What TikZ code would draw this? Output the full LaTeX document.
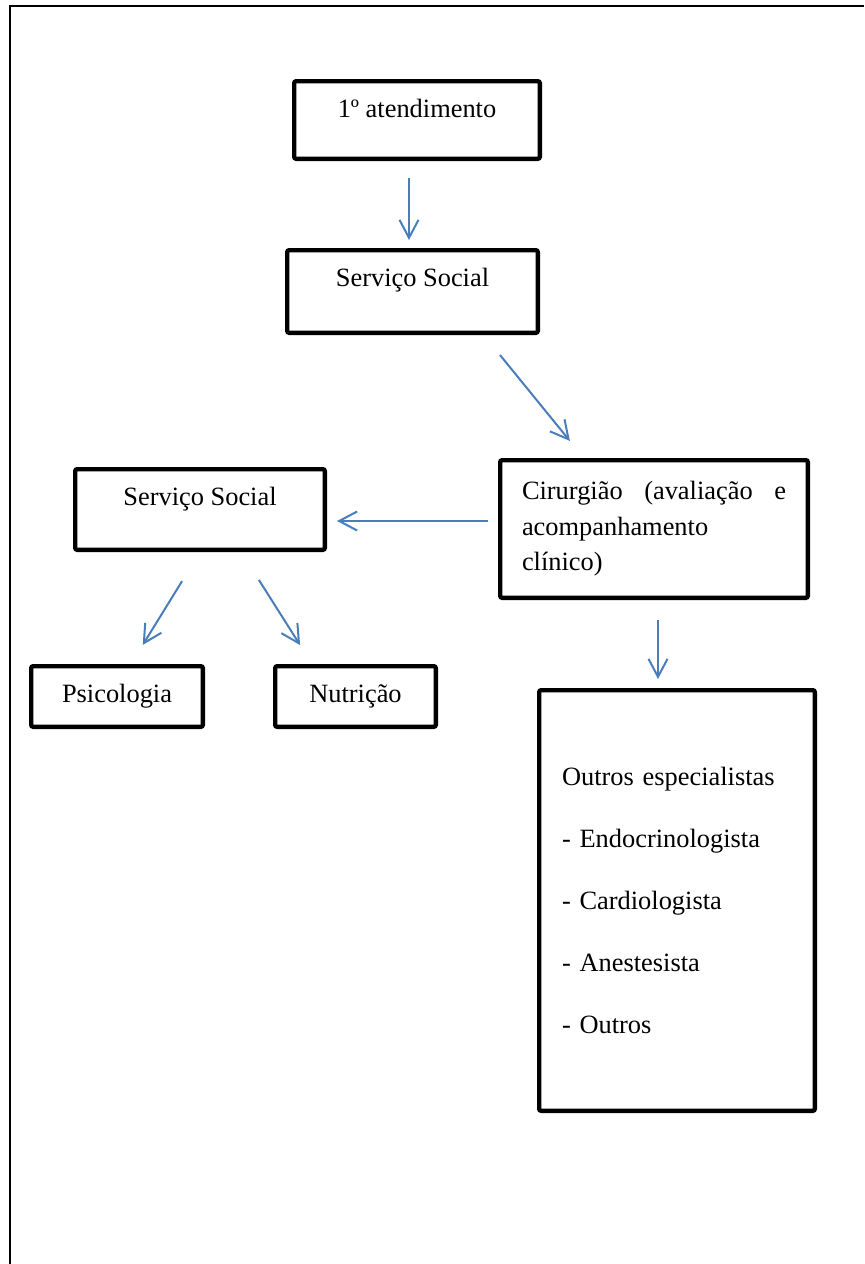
\documentclass[tikz,border=0pt]{standalone}
\usepackage{fontspec}
\setmainfont{Liberation Serif}
\usepackage{tikz}
\usetikzlibrary{arrows.meta,positioning,calc}
\definecolor{azulseta}{HTML}{4A7EBB}

\begin{document}
\begin{tikzpicture}[x=0.5pt,y=-0.5pt,
			cx/.style={draw=black,line width=2.2pt,rounded corners=1pt,inner sep=0pt,align=center,font=\fontsize{13.2}{15.8}\selectfont},
			seta/.style={draw=azulseta,line width=1pt,-{Straight Barb[length=9pt,width=9.5pt]}},
			moldura/.style={draw=black,line width=1pt}
			]
			\useasboundingbox (0,0) rectangle (864,1264);
			\draw[moldura] (10,1264) |- (864,6);
			\node[cx,minimum width=122.8pt,minimum height=38.8pt,text height=9pt,text depth=12pt] (a1) at (417,120) {1º atendimento};
			\node[cx,minimum width=125.3pt,minimum height=41.3pt,text height=9pt,text depth=14.5pt] (ss1) at (412.5,291.5) {Serviço Social};
			\node[cx,minimum width=153.8pt,minimum height=68.8pt,text width=132pt,align=left,font=\fontsize{13.2}{17.75}\selectfont] (cir) at (654,529) {Cirurgião\hfill(avaliação\hfill e\\acompanhamento\\clínico)};
			\node[cx,minimum width=124.8pt,minimum height=40.3pt,text height=9pt,text depth=13.5pt] (ss2) at (200,509.5) {Serviço Social};
			\node[cx,minimum width=85.8pt,minimum height=30.3pt] (psi) at (117,696.5) {Psicologia};
			\node[cx,minimum width=80.3pt,minimum height=30.3pt] (nut) at (355.5,696.5) {Nutrição};
			\node[cx,minimum width=137.8pt,minimum height=210.3pt,text width=115pt,align=left,font=\fontsize{13.2}{30.9}\selectfont] (esp) at (677,900.5) {Outros especialistas\\- Endocrinologista\\- Cardiologista\\- Anestesista\\- Outros};
			% setas
			\draw[seta,shorten <=8.5pt,shorten >=4pt] ([xshift=-4pt]a1.south) -- ([xshift=-4pt]a1.south |- ss1.north);
			\draw[seta,shorten <=12.9pt,shorten >=11pt] ([xshift=35.6pt]ss1.south) -- ([xshift=-35.1pt]cir.north);
			\draw[seta,shorten <=5pt,shorten >=5pt] ([yshift=4pt]cir.west) -- ([yshift=4pt]cir.west -| ss2.east);
			\draw[seta,shorten <=17.1pt,shorten >=11.2pt] (ss2.south) -- ([xshift=7pt]psi.north);
			\draw[seta,shorten <=16.5pt,shorten >=11.2pt] ([xshift=20.6pt]ss2.south) -- ([xshift=-21.7pt]nut.north);
			\draw[seta,shorten <=10pt,shorten >=4.5pt] ([xshift=2pt]cir.south) -- ([xshift=2pt]cir.south |- esp.north);
		\end{tikzpicture}
\end{document}
